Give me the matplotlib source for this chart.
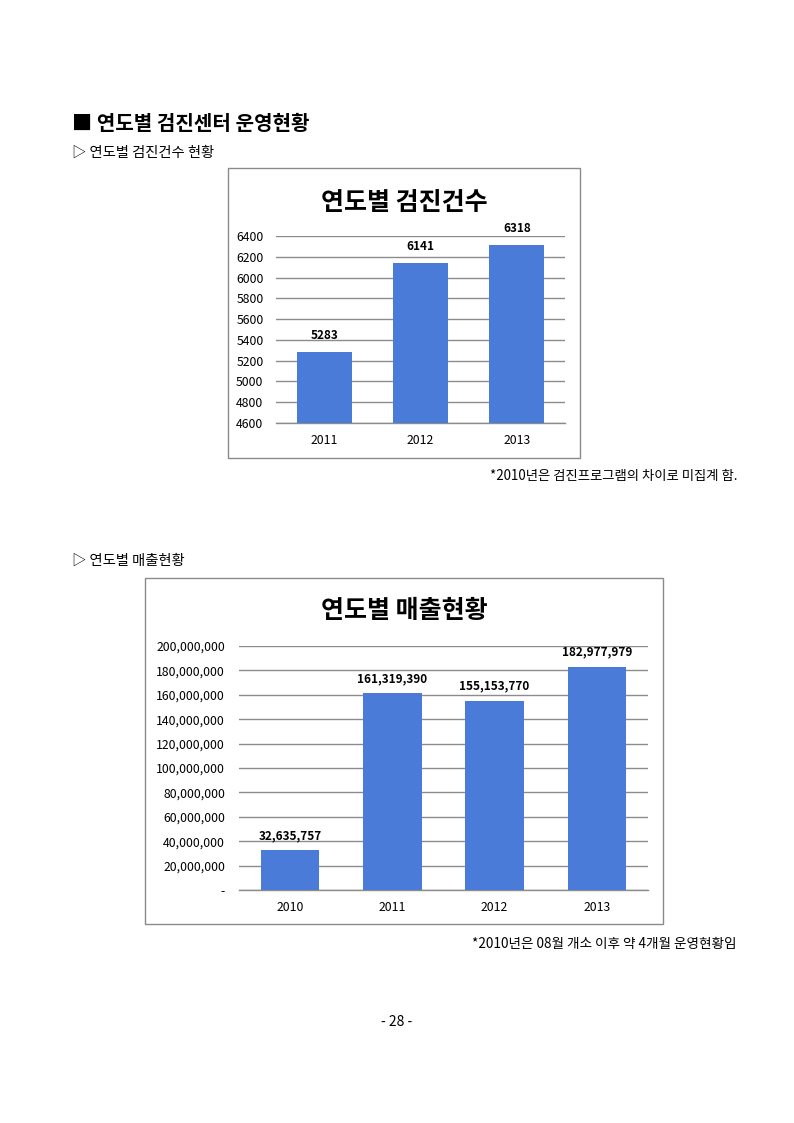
import matplotlib
matplotlib.use("Agg")
import matplotlib.pyplot as plt
from matplotlib.patches import Rectangle
from matplotlib.ticker import FuncFormatter

plt.rcParams['font.family'] = ['Noto Sans CJK KR', 'DejaVu Sans']

# data
exam_years = ['2011', '2012', '2013']
exam_counts = [5283, 6141, 6318]

sales_years = ['2010', '2011', '2012', '2013']
sales_amounts = [32635757, 161319390, 155153770, 182977979]

W, H = 794, 1123
BAR_COLOR = '#4a7bd8'
GRID_COLOR = '#8c8c8c'

fig = plt.figure(figsize=(W / 100, H / 100), dpi=100)


def fx(x):
    return x / W


def fy(y):
    return 1 - y / H


def frame(x0, y0, x1, y1):
    fig.patches.append(Rectangle((fx(x0), fy(y1)), fx(x1) - fx(x0), fy(y0) - fy(y1),
                                 transform=fig.transFigure, fill=False,
                                 edgecolor='#8a8a8a', linewidth=1.0))


def add_plot(left, top, right, bottom):
    return fig.add_axes([fx(left), fy(bottom), fx(right) - fx(left), fy(top) - fy(bottom)])


def style_axes(ax):
    for s in ax.spines.values():
        s.set_visible(False)
    ax.yaxis.grid(True, color=GRID_COLOR, linewidth=1.0)
    ax.axhline(ax.get_ylim()[0], color=GRID_COLOR, linewidth=1.0, clip_on=False, zorder=1)
    ax.set_axisbelow(True)
    ax.tick_params(axis='both', length=0, labelsize=8.8)
    ax.tick_params(axis='y', pad=9)
    ax.tick_params(axis='x', pad=8)


# page text
fig.text(fx(72), fy(124), '■ 연도별 검진센터 운영현황', fontsize=14.5, fontweight='bold', va='center', ha='left')
fig.text(fx(72), fy(153), '▷ 연도별 검진건수 현황', fontsize=10.3, va='center', ha='left')
fig.text(fx(72), fy(561), '▷ 연도별 매출현황', fontsize=10.3, va='center', ha='left')
fig.text(fx(737), fy(476), '*2010년은 검진프로그램의 차이로 미집계 함.', fontsize=9.6, va='center', ha='right')
fig.text(fx(737), fy(944), '*2010년은 08월 개소 이후 약 4개월 운영현황임', fontsize=9.8, va='center', ha='right')
fig.text(fx(397), fy(1022), '- 28 -', fontsize=10, va='center', ha='center')

# chart 1: exam counts
frame(228, 168, 580, 458)
fig.text(fx(404), fy(203), '연도별 검진건수', fontsize=18, fontweight='bold', va='center', ha='center')
ax1 = add_plot(276, 236, 565, 423)
x1 = range(len(exam_years))
ax1.bar(x1, exam_counts, width=0.57, color=BAR_COLOR, zorder=2)
ax1.set_ylim(4600, 6400)
ax1.set_yticks(range(4600, 6401, 200))
ax1.set_xlim(-0.5, len(exam_years) - 0.5)
ax1.set_xticks(list(x1))
ax1.set_xticklabels(exam_years)
style_axes(ax1)
for i, v in enumerate(exam_counts):
    ax1.annotate(str(v), (i, v), xytext=(0, 7), textcoords='offset points',
                 ha='center', va='bottom', fontsize=8.5, fontweight='bold')

# chart 2: sales
frame(145, 578, 663, 924)
fig.text(fx(404), fy(611), '연도별 매출현황', fontsize=18, fontweight='bold', va='center', ha='center')
ax2 = add_plot(239, 646, 648, 890)
x2 = range(len(sales_years))
ax2.bar(x2, sales_amounts, width=0.57, color=BAR_COLOR, zorder=2)
ax2.set_ylim(0, 200000000)
ax2.set_yticks(range(0, 200000001, 20000000))
ax2.yaxis.set_major_formatter(FuncFormatter(lambda v, p: '-' if v == 0 else f'{int(v):,}'))
ax2.set_xlim(-0.5, len(sales_years) - 0.5)
ax2.set_xticks(list(x2))
ax2.set_xticklabels(sales_years)
style_axes(ax2)
ax2.tick_params(axis='y', pad=10)
for i, v in enumerate(sales_amounts):
    ax2.annotate(f'{v:,}', (i, v), xytext=(0, 6), textcoords='offset points',
                 ha='center', va='bottom', fontsize=8.5, fontweight='bold')

fig.savefig('out.png', dpi=100)
